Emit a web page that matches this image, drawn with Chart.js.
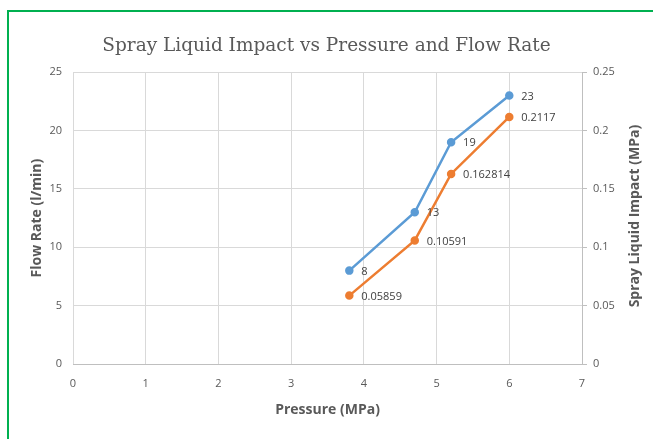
<!DOCTYPE html>
<html>
<head>
<meta charset="utf-8">
<script src="https://cdn.jsdelivr.net/npm/chart.js@4/dist/chart.umd.min.js"></script>
<style>
  html, body { margin: 0; padding: 0; background: #fff; overflow: hidden; }
  #wrap { position: relative; width: 653px; height: 439px; }
  #chart { position: absolute; left: 0; top: 0; }
  #frame {
    position: absolute; left: 7px; top: 10px; width: 700px; height: 500px;
    border-left: 2.5px solid #00b050; border-top: 2.5px solid #00b050;
    pointer-events: none;
  }
</style>
</head>
<body>
<div id="wrap">
  <canvas id="chart" width="653" height="439"></canvas>
  <div id="frame"></div>
</div>
<script>
// data
const pressure = [3.8, 4.7, 5.2, 6];
const flowRate = [8, 13, 19, 23];
const sprayImpact = [0.05859, 0.10591, 0.162814, 0.2117];

const xTicks = [0, 1, 2, 3, 4, 5, 6, 7];
const flowTicks = [0, 5, 10, 15, 20, 25];
const impactTicks = [0, 0.05, 0.1, 0.15, 0.2, 0.25];

const tickFont = { family: "'Open Sans', sans-serif", size: 11 };
const titleFont = "bold 14px 'Open Sans', sans-serif";
const grey = '#595959';

// value labels to the right of each point
const pointLabels = {
  id: 'pointLabels',
  afterDatasetsDraw(chart) {
    const ctx = chart.ctx;
    ctx.save();
    ctx.font = "11px 'Open Sans', sans-serif";
    ctx.fillStyle = '#404040';
    ctx.textAlign = 'left';
    ctx.textBaseline = 'middle';
    chart.data.datasets.forEach((ds, i) => {
      chart.getDatasetMeta(i).data.forEach((pt, j) => {
        ctx.fillText(String(ds.data[j].y), pt.x + 12, pt.y + 1);
      });
    });
    ctx.restore();
  }
};

// axis titles (right one reads bottom to top like the left one)
const axisTitles = {
  id: 'axisTitles',
  afterDraw(chart) {
    const ctx = chart.ctx;
    const a = chart.chartArea;
    const midY = (a.top + a.bottom) / 2;
    ctx.save();
    ctx.font = titleFont;
    ctx.fillStyle = grey;
    ctx.textAlign = 'center';
    ctx.textBaseline = 'middle';
    ctx.fillText('Pressure (MPa)', (a.left + a.right) / 2, a.bottom + 46);

    ctx.save();
    ctx.translate(37, midY);
    ctx.rotate(-Math.PI / 2);
    ctx.fillText('Flow Rate (l/min)', 0, 0);
    ctx.restore();

    ctx.save();
    ctx.translate(a.right + 53, midY - 2);
    ctx.rotate(-Math.PI / 2);
    ctx.fillText('Spray Liquid Impact (MPa)', 0, 0);
    ctx.restore();
    ctx.restore();
  }
};

function toPoints(xs, ys) {
  return xs.map((x, i) => ({ x: x, y: ys[i] }));
}

new Chart(document.getElementById('chart'), {
  type: 'line',
  data: {
    datasets: [
      {
        label: 'Flow Rate',
        data: toPoints(pressure, flowRate),
        yAxisID: 'y',
        borderColor: '#5b9bd5',
        backgroundColor: '#5b9bd5',
        borderWidth: 2.5,
        pointRadius: 3,
        pointHoverRadius: 3,
        tension: 0
      },
      {
        label: 'Spray Liquid Impact',
        data: toPoints(pressure, sprayImpact),
        yAxisID: 'y1',
        borderColor: '#ed7d31',
        backgroundColor: '#ed7d31',
        borderWidth: 2.5,
        pointRadius: 3,
        pointHoverRadius: 3,
        tension: 0
      }
    ]
  },
  options: {
    responsive: false,
    animation: false,
    layout: { padding: { left: 0, right: 0, top: 0, bottom: 0 } },
    plugins: {
      legend: { display: false },
      tooltip: { enabled: false },
      title: {
        display: true,
        text: 'Spray Liquid Impact vs Pressure and Flow Rate',
        color: grey,
        font: { family: "'DejaVu Serif', serif", size: 18.5, weight: 'normal' },
        padding: { top: 35, bottom: 15 }
      }
    },
    scales: {
      x: {
        type: 'linear',
        min: xTicks[0],
        max: xTicks[xTicks.length - 1],
        afterBuildTicks: s => { s.ticks = xTicks.map(v => ({ value: v })); },
        afterFit: s => { s.height = 75; },
        ticks: { color: grey, font: tickFont, padding: 13, maxRotation: 0 },
        grid: { color: '#d9d9d9', drawTicks: false },
        border: { color: '#bfbfbf', width: 1 }
      },
      y: {
        position: 'left',
        min: flowTicks[0],
        max: flowTicks[flowTicks.length - 1],
        afterBuildTicks: s => { s.ticks = flowTicks.map(v => ({ value: v })); },
        afterFit: s => { s.width = 73; },
        ticks: { color: grey, font: tickFont, padding: 11 },
        grid: { color: '#d9d9d9', drawTicks: false },
        border: { display: false }
      },
      y1: {
        position: 'right',
        min: impactTicks[0],
        max: impactTicks[impactTicks.length - 1],
        afterBuildTicks: s => { s.ticks = impactTicks.map(v => ({ value: v })); },
        afterFit: s => { s.width = 71; },
        ticks: { color: grey, font: tickFont, padding: 6, callback: v => String(v) },
        grid: { drawOnChartArea: false, drawTicks: true, tickLength: 5, color: '#bfbfbf' },
        border: { color: '#bfbfbf', width: 1 }
      }
    }
  },
  plugins: [pointLabels, axisTitles]
});
</script>
</body>
</html>
